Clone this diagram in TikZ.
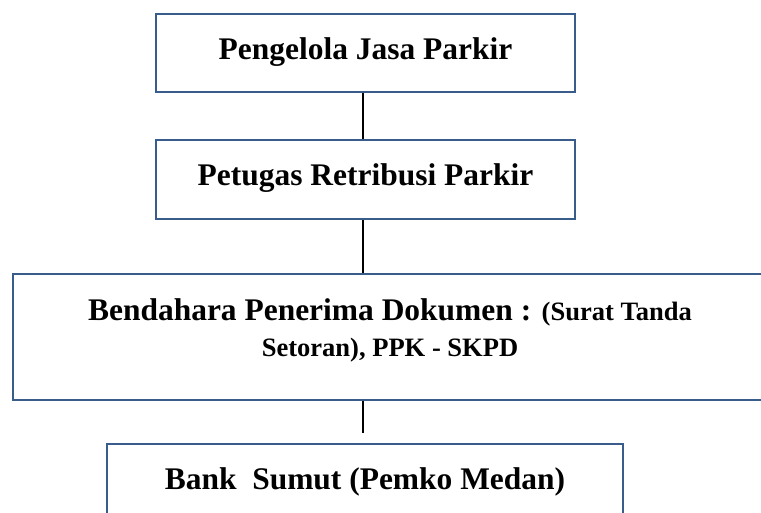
\documentclass[tikz,border=0pt]{standalone}
\usepackage{fontspec}
\setmainfont{Liberation Serif}
\definecolor{garisbiru}{RGB}{56,93,138}
\newcommand{\hurufbesar}{\fontsize{23.6}{27}\selectfont\bfseries}
\newcommand{\hurufkecil}{\fontsize{19.9}{27}\selectfont\bfseries}
\begin{document}
\begin{tikzpicture}[x=0.75pt, y=-0.75pt,
    kotak/.style={draw=garisbiru, line width=1.7pt, fill=white, rectangle, inner sep=0pt,
        font=\hurufbesar, text height=17pt, text depth=8pt},
    garis/.style={line width=2.2pt, black}]
        \useasboundingbox (0, 0) rectangle (761, 512);
        \clip (0, 0) rectangle (761, 512);

        \node[kotak, minimum width=419*0.75pt, minimum height=78*0.75pt] (pengelola) at (365.5, 53) {Pengelola Jasa Parkir};
        \node[kotak, minimum width=419*0.75pt, minimum height=79*0.75pt] (petugas) at (365.5, 179.5) {Petugas Retribusi Parkir};
        \node[kotak, minimum width=754*0.75pt, minimum height=126*0.75pt, align=center, text height=36pt, text depth=7.5pt] (bendahara) at (390, 337)
            {Bendahara Penerima Dokumen : {\hurufkecil(Surat Tanda}\\ {\hurufkecil Setoran), PPK - SKPD}};
        \node[kotak, minimum width=516*0.75pt, minimum height=79*0.75pt] (bank) at (365, 483.5) {Bank\ \ Sumut (Pemko Medan)};
        \coordinate (ujung) at (363, 433);

        \draw[garis] (pengelola.south -| ujung) -- (petugas.north -| ujung);
        \draw[garis] (petugas.south -| ujung) -- (bendahara.north -| ujung);
        \draw[garis] (bendahara.south -| ujung) -- (ujung);
\end{tikzpicture}
\end{document}
